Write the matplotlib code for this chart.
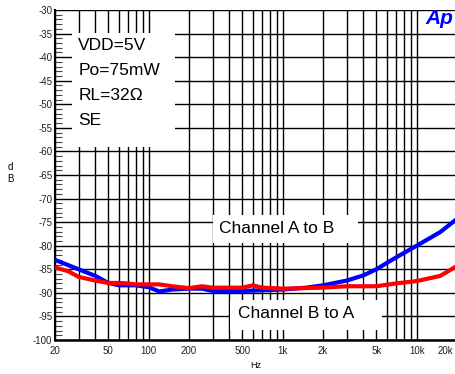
import matplotlib
matplotlib.use("Agg")
import matplotlib.pyplot as plt
import matplotlib.transforms as mtransforms
from matplotlib.patches import Rectangle
from matplotlib.ticker import FixedLocator, NullFormatter, MultipleLocator

plt.rcParams['font.family'] = ['Liberation Sans', 'DejaVu Sans']

# ------------------ 데이터 ------------------
freq_ab = [20, 25, 30, 40, 50, 60, 70, 80, 100, 120, 150, 200, 250, 300, 500,
           1000, 1500, 2000, 3000, 4000, 5000, 7000, 10000, 15000, 20000]
db_ab = [-83.0, -84.1, -85.0, -86.4, -87.9, -88.4, -88.4, -88.4, -88.8, -89.7, -89.3, -89.1, -89.1, -89.6, -89.6,
         -89.3, -88.9, -88.4, -87.4, -86.3, -85.0, -82.5, -80.0, -77.1, -74.3]

freq_ba = [20, 25, 30, 40, 50, 60, 70, 80, 100, 120, 150, 200, 250, 300, 500,
           600, 700, 1000, 2000, 3000, 5000, 7000, 10000, 15000, 20000]
db_ba = [-84.6, -85.4, -86.6, -87.4, -87.9, -87.9, -88.0, -88.2, -88.2, -88.2, -88.6, -89.0, -88.6, -88.9, -88.9,
         -88.4, -88.9, -89.1, -88.9, -88.6, -88.6, -88.0, -87.5, -86.4, -84.3]

x_ticks = [20, 50, 100, 200, 500, 1000, 2000, 5000, 10000, 20000]
x_labels = ["20", "50", "100", "200", "500", "1k", "2k", "5k", "10k", "20k"]
grid_freqs = [m * 10 ** e for e in range(1, 5) for m in range(1, 10)]
grid_freqs = [f for f in grid_freqs if 20 <= f <= 20000]
y_ticks = list(range(-100, -29, 5))
info_lines = ["VDD=5V", "Po=75mW", "RL=32\u2126", "SE"]

# ------------------ 그래프 ------------------
fig = plt.figure(figsize=(4.55, 3.74), dpi=100)
ax = fig.add_axes([55 / 455, 34 / 374, 402 / 455, 330 / 374])

ax.set_xscale("log")
ax.set_xlim(20, 20000)
ax.set_ylim(-100, -30)

# 격자
for f in grid_freqs:
    ax.axvline(f, color="black", lw=1.0, zorder=1)
for y in y_ticks:
    ax.axhline(y, color="black", lw=1.0, zorder=1)

ax.xaxis.set_major_locator(FixedLocator(x_ticks))
ax.set_xticklabels(x_labels)
ax.xaxis.set_minor_formatter(NullFormatter())
ax.xaxis.set_minor_locator(FixedLocator([]))
ax.set_yticks(y_ticks)
ax.set_yticklabels([str(v) for v in y_ticks])
ax.yaxis.set_minor_locator(MultipleLocator(1))
ax.tick_params(axis="x", which="both", length=0, labelsize=7, pad=4, colors="#222222")
ax.tick_params(axis="y", which="major", direction="in", length=0, labelsize=7, pad=2, colors="#222222")
ax.tick_params(axis="y", which="minor", direction="in", length=5, width=0.8, color="#444444")

# 마지막 라벨은 그림 안쪽으로 (잘리지 않게)
last = ax.get_xticklabels()[-1]
last.set_horizontalalignment("right")
last.set_transform(last.get_transform() + mtransforms.ScaledTranslation(-4 / 100, 0, fig.dpi_scale_trans))

for side in ["top", "right"]:
    ax.spines[side].set_visible(False)
ax.spines["left"].set_linewidth(1.5)
ax.spines["bottom"].set_linewidth(1.8)

# 텍스트 박스
ax.add_patch(Rectangle((0.042, 0.585), 0.257, 0.345, transform=ax.transAxes,
                       facecolor="white", edgecolor="none", zorder=2))
for i, line in enumerate(info_lines):
    ax.text(0.058, 0.891 - i * 0.075, line, transform=ax.transAxes, fontsize=12.5,
            va="center", ha="left", zorder=3)

ax.add_patch(Rectangle((0.393, 0.294), 0.361, 0.085, transform=ax.transAxes,
                       facecolor="white", edgecolor="none", zorder=2))
ax.text(0.408, 0.339, "Channel A to B", transform=ax.transAxes, fontsize=12.5,
        va="center", ha="left", zorder=3)

ax.add_patch(Rectangle((0.435, 0.030), 0.378, 0.091, transform=ax.transAxes,
                       facecolor="white", edgecolor="none", zorder=2))
ax.text(0.455, 0.079, "Channel B to A", transform=ax.transAxes, fontsize=12.5,
        va="center", ha="left", zorder=3)

# 곡선
ax.plot(freq_ab, db_ab, color="#0000ff", lw=3, zorder=4, solid_capstyle="butt")
ax.plot(freq_ba, db_ba, color="#ff0000", lw=3, zorder=5, solid_capstyle="butt")

# 로고 / 축 제목
fig.text(453 / 455, 1 - 18 / 374, "Ap", color="#0000ff", fontsize=15, fontweight="bold",
         fontstyle="italic", va="center", ha="right")
fig.text(10 / 455, 1 - 173 / 374, "d\nB", fontsize=7, va="center", ha="center", linespacing=1.3)
fig.text(256 / 455, 1 - 365 / 374, "Hz", fontsize=6.5, va="center", ha="center")

fig.savefig("out.png", dpi=100)
